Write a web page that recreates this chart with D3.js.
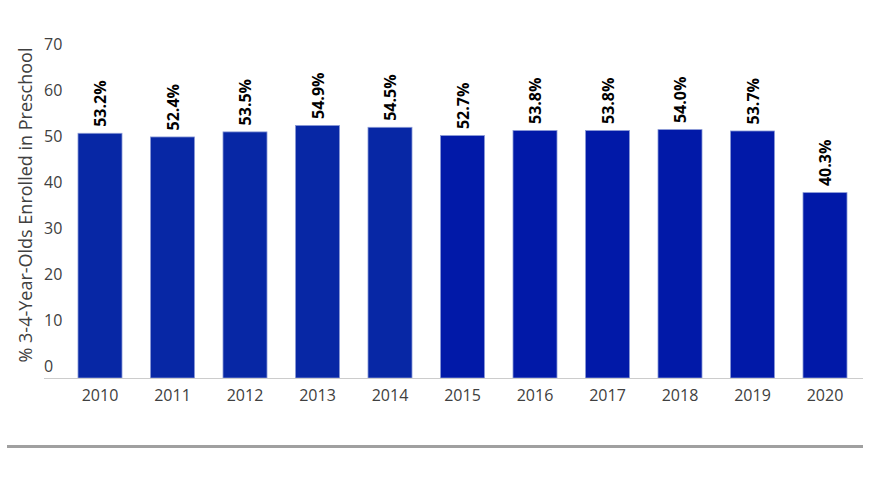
<!DOCTYPE html>
<html>
<head>
<meta charset="utf-8">
<script src="https://cdn.jsdelivr.net/npm/d3@7"></script>
<style>
  body { margin: 0; background: #fff; }
  svg { font-family: "Open Sans", sans-serif; }
</style>
</head>
<body>
<svg width="878" height="487"></svg>
<script>
// data
var years = ["2010", "2011", "2012", "2013", "2014", "2015", "2016", "2017", "2018", "2019", "2020"];
var enrolled = [53.2, 52.4, 53.5, 54.9, 54.5, 52.7, 53.8, 53.8, 54.0, 53.7, 40.3];
var yTicks = [0, 10, 20, 30, 40, 50, 60, 70];
var yTitle = "% 3-4-Year-Olds Enrolled in Preschool";

var svg = d3.select("svg");
var baseY = 378, axisLeft = 44, axisRight = 863;

var x = d3.scaleBand()
    .domain(years)
    .range([63.75, 861.25])
    .paddingInner(0.393)
    .paddingOuter(0.1965);

var y = d3.scaleLinear()
    .domain([0, 70])
    .range([baseY, baseY - 70 * 4.6]);

// y tick labels sit just above their value line
svg.append("g").selectAll("text")
    .data(yTicks)
    .enter().append("text")
    .attr("x", axisLeft)
    .attr("y", function (d) { return y(d) - 6; })
    .style("font-size", "16px")
    .style("fill", "#404040")
    .text(function (d) { return d; });

svg.append("text")
    .attr("transform", "translate(" + [32, 205] + ") rotate(-90)")
    .attr("text-anchor", "middle")
    .style("font-size", "18px")
    .style("fill", "#404040")
    .text(yTitle);

// bars
svg.append("g").selectAll("rect")
    .data(years)
    .enter().append("rect")
    .attr("x", function (d) { return x(d); })
    .attr("y", function (d, i) { return y(enrolled[i]); })
    .attr("width", x.bandwidth())
    .attr("height", function (d, i) { return baseY - y(enrolled[i]); })
    .style("fill", function (d) { return +d <= 2014 ? "#0727a5" : "#0119a8"; })
    .style("stroke", "#8a9ad6")
    .style("stroke-width", 0.8);

// value labels
svg.append("g").selectAll("text")
    .data(years)
    .enter().append("text")
    .attr("transform", function (d, i) {
        return "translate(" + [x(d) + x.bandwidth() / 2 + 6, y(enrolled[i]) - 6.5] + ") rotate(-90)";
    })
    .style("font-size", "16px")
    .style("font-weight", "bold")
    .style("fill", "#000")
    .text(function (d, i) { return enrolled[i].toFixed(1) + "%"; });

// x axis
svg.append("line")
    .attr("x1", axisLeft).attr("x2", axisRight)
    .attr("y1", baseY + 0.5).attr("y2", baseY + 0.5)
    .style("stroke", "#cccccc");

svg.append("g").selectAll("text")
    .data(years)
    .enter().append("text")
    .attr("x", function (d) { return x(d) + x.bandwidth() / 2; })
    .attr("y", 401)
    .attr("text-anchor", "middle")
    .style("font-size", "16px")
    .style("fill", "#404040")
    .text(function (d) { return d; });

// footer rule
svg.append("rect")
    .attr("x", 7).attr("y", 445)
    .attr("width", 856).attr("height", 3)
    .style("fill", "#a0a0a0");
</script>
</body>
</html>
